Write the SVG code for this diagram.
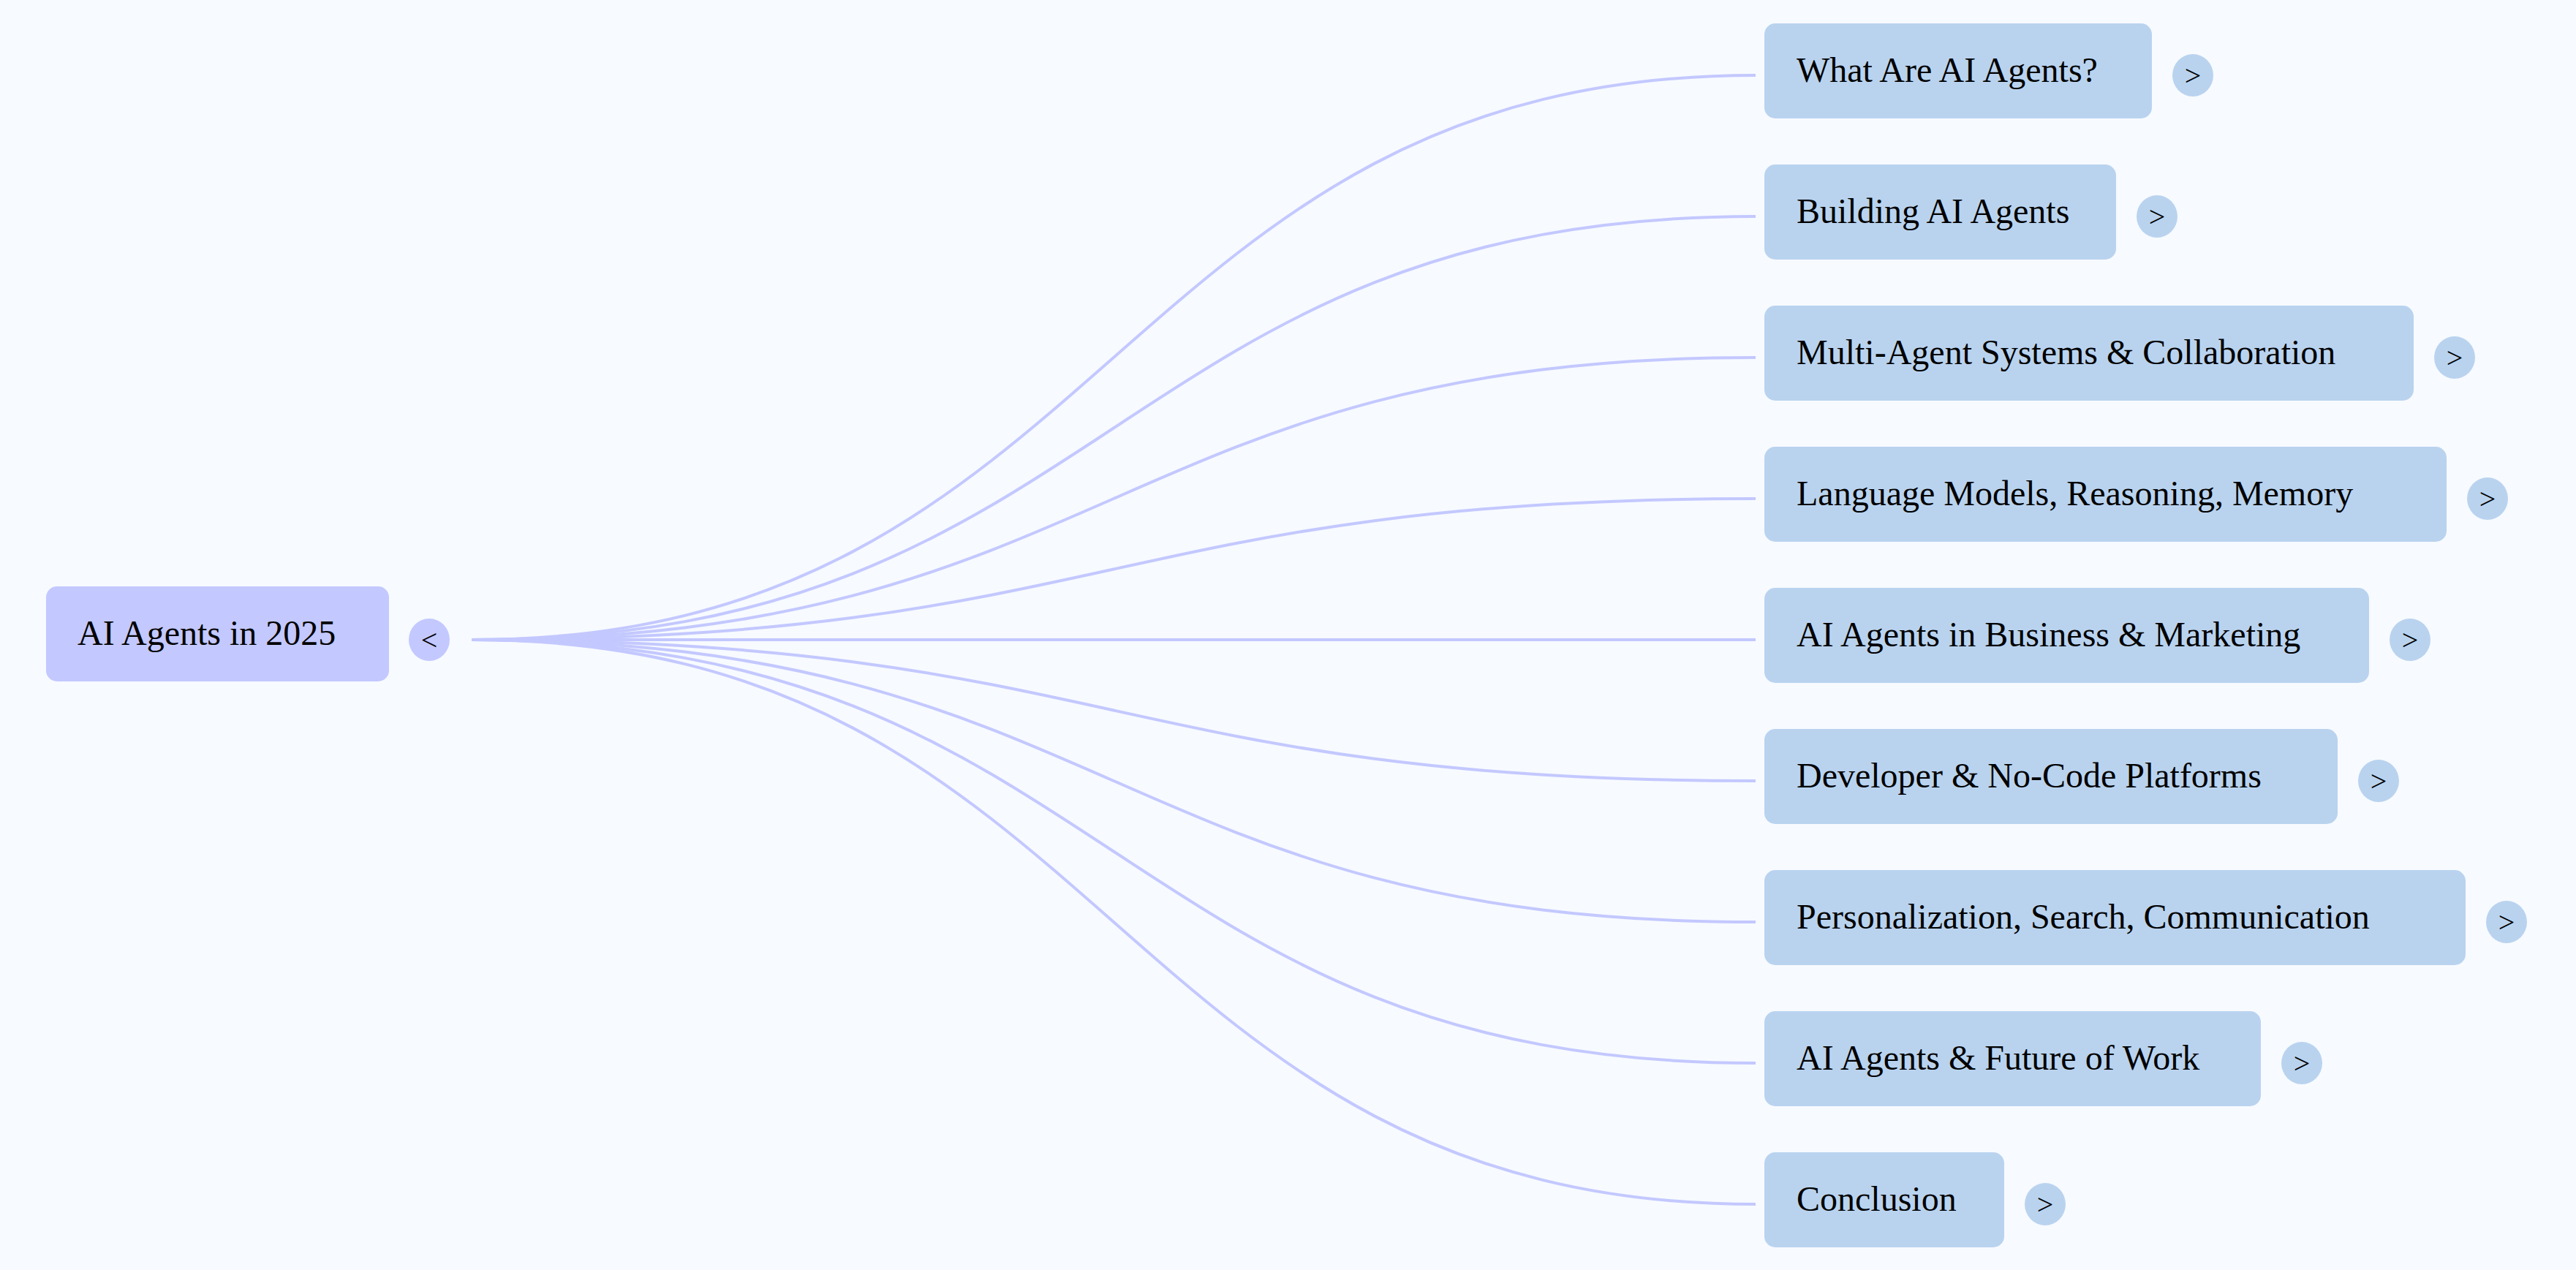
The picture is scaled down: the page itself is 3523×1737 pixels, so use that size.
<svg xmlns="http://www.w3.org/2000/svg" width="3523" height="1737" viewBox="0 0 3523 1737">
<style>
text{font-family:"Liberation Serif","Times New Roman",serif;font-size:48px;fill:#000}
.n{fill:#b9d3ef}
.c{fill:#b9d3ef}
.t{font-size:40px;text-anchor:middle}
#edges path{fill:none;stroke:#c3c8ff;stroke-width:4}
</style>
<rect width="3523" height="1737" fill="#f7faff"/>
<g id="edges">
<path d="M645,875 C1523,875 1523,103 2401,103"/>
<path d="M645,875 C1523,875 1523,296 2401,296"/>
<path d="M645,875 C1523,875 1523,489 2401,489"/>
<path d="M645,875 C1523,875 1523,682 2401,682"/>
<path d="M645,875 L2401,875"/>
<path d="M645,875 C1523,875 1523,1068 2401,1068"/>
<path d="M645,875 C1523,875 1523,1261 2401,1261"/>
<path d="M645,875 C1523,875 1523,1454 2401,1454"/>
<path d="M645,875 C1523,875 1523,1647 2401,1647"/>
</g>
<g id="root">
<rect x="63" y="802" width="469" height="130" rx="15" fill="#c3c8ff"/>
<text x="106" y="882">AI Agents in 2025</text>
<ellipse cx="587" cy="875" rx="28" ry="29" fill="#c3c8ff"/>
<text class="t" x="587" y="889">&lt;</text>
</g>
<g id="n1"><rect class="n" x="2413" y="32" width="530" height="130" rx="15"/><text x="2457" y="112">What Are AI Agents?</text><ellipse class="c" cx="2999" cy="103" rx="28" ry="29"/><text class="t" x="2999" y="117">&gt;</text></g>
<g id="n2"><rect class="n" x="2413" y="225" width="481" height="130" rx="15"/><text x="2457" y="305">Building AI Agents</text><ellipse class="c" cx="2950" cy="296" rx="28" ry="29"/><text class="t" x="2950" y="310">&gt;</text></g>
<g id="n3"><rect class="n" x="2413" y="418" width="888" height="130" rx="15"/><text x="2457" y="498">Multi-Agent Systems &amp; Collaboration</text><ellipse class="c" cx="3357" cy="489" rx="28" ry="29"/><text class="t" x="3357" y="503">&gt;</text></g>
<g id="n4"><rect class="n" x="2413" y="611" width="933" height="130" rx="15"/><text x="2457" y="691">Language Models, Reasoning, Memory</text><ellipse class="c" cx="3402" cy="682" rx="28" ry="29"/><text class="t" x="3402" y="696">&gt;</text></g>
<g id="n5"><rect class="n" x="2413" y="804" width="827" height="130" rx="15"/><text x="2457" y="884">AI Agents in Business &amp; Marketing</text><ellipse class="c" cx="3296" cy="875" rx="28" ry="29"/><text class="t" x="3296" y="889">&gt;</text></g>
<g id="n6"><rect class="n" x="2413" y="997" width="784" height="130" rx="15"/><text x="2457" y="1077">Developer &amp; No-Code Platforms</text><ellipse class="c" cx="3253" cy="1068" rx="28" ry="29"/><text class="t" x="3253" y="1082">&gt;</text></g>
<g id="n7"><rect class="n" x="2413" y="1190" width="959" height="130" rx="15"/><text x="2457" y="1270">Personalization, Search, Communication</text><ellipse class="c" cx="3428" cy="1261" rx="28" ry="29"/><text class="t" x="3428" y="1275">&gt;</text></g>
<g id="n8"><rect class="n" x="2413" y="1383" width="679" height="130" rx="15"/><text x="2457" y="1463">AI Agents &amp; Future of Work</text><ellipse class="c" cx="3148" cy="1454" rx="28" ry="29"/><text class="t" x="3148" y="1468">&gt;</text></g>
<g id="n9"><rect class="n" x="2413" y="1576" width="328" height="130" rx="15"/><text x="2457" y="1656">Conclusion</text><ellipse class="c" cx="2797" cy="1647" rx="28" ry="29"/><text class="t" x="2797" y="1661">&gt;</text></g>
</svg>
